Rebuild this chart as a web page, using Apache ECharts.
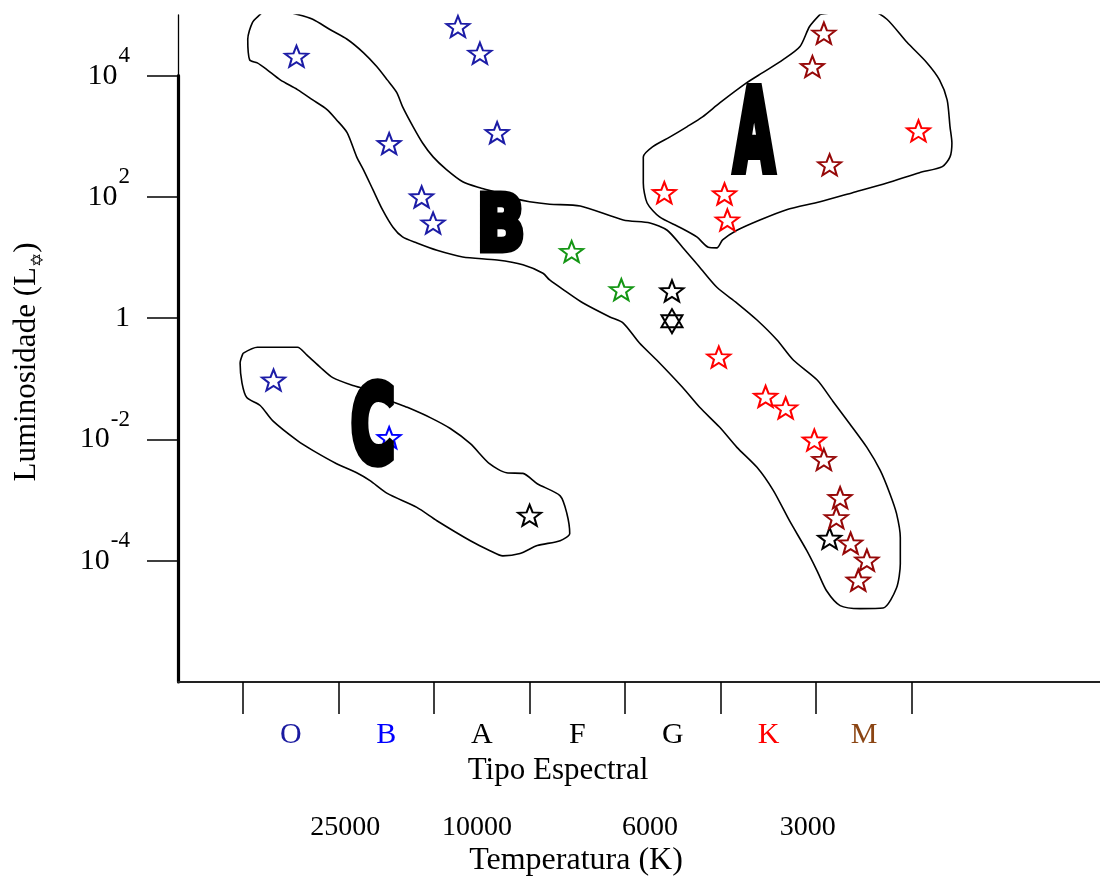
<!DOCTYPE html>
<html><head><meta charset="utf-8">
<script src="https://cdn.jsdelivr.net/npm/echarts@6/dist/echarts.min.js"></script>
<style>html,body{margin:0;padding:0;background:#fff}#c{width:1100px;height:878px}</style>
</head><body><div id="c"></div>
<script>
// Spectral classes (x axis: class boundaries at 0..7, label at mid-class)
const spectralClasses = ['O','B','A','F','G','K','M'];
const classColors = ['#1a1aa0','#0000ff','#000000','#000000','#000000','#ff0000','#8b4513'];
const classBoundaries = [0,1,2,3,4,5,6,7];
const classCenters = [0.5,1.5,2.5,3.5,4.5,5.5,6.5];
// Temperature tick labels (position on spectral axis)
const tempLabels = ['25000','10000','6000','3000'];
const tempPositions = [1.07,2.45,4.26,5.91];
// Luminosity ticks, as log10(L / Lsun)
const lumTicks = [-4,-2,0,2,4];

// Stars: [spectral position, log10 L]
const navyStars = [[0.56,4.32],[2.25,4.81],[2.48,4.37],[2.66,3.06],[1.53,2.88],[1.87,2.00],[1.99,1.57],[0.32,-1.02]];
const blueStars = [[1.53,-1.97]];
const greenStars = [[3.44,1.10],[3.96,0.47]];
const blackStars = [[4.49,0.45],[3.00,-3.25],[6.14,-3.63]];
const sunStar = [[4.49,-0.05]];
const redStars = [[4.98,-0.64],[5.47,-1.29],[5.68,-1.48],[5.98,-2.01],[7.07,3.09],[4.41,2.07],[5.04,2.05],[5.07,1.62]];
const darkRedStars = [[6.08,-2.33],[6.25,-2.96],[6.21,-3.29],[6.36,-3.71],[6.53,-3.99],[6.44,-4.32],[6.08,4.70],[5.96,4.15],[6.14,2.53]];

// Region outlines: [spectral position, log10 L]
const regionA = [[6.04,5.01],[6.32,5.06],[6.59,5.06],[6.74,4.93],[6.95,4.55],[7.16,4.21],[7.29,3.93],[7.37,3.60],[7.40,3.16],[7.42,2.89],[7.40,2.66],[7.32,2.50],[7.08,2.40],[6.74,2.23],[6.38,2.07],[6.04,1.92],[5.69,1.79],[5.41,1.62],[5.17,1.45],[5.02,1.29],[4.96,1.16],[4.87,1.17],[4.75,1.34],[4.57,1.50],[4.36,1.67],[4.23,1.90],[4.19,2.23],[4.19,2.66],[4.29,2.83],[4.47,2.99],[4.65,3.16],[4.81,3.32],[4.99,3.55],[5.27,3.88],[5.44,4.05],[5.65,4.26],[5.83,4.48],[5.93,4.81],[6.04,5.01]];
const regionB = [[0.21,5.06],[0.41,5.06],[0.57,5.01],[0.73,4.93],[0.91,4.76],[1.09,4.60],[1.26,4.38],[1.40,4.15],[1.51,3.93],[1.61,3.72],[1.67,3.49],[1.78,3.16],[1.88,2.89],[1.99,2.66],[2.13,2.45],[2.30,2.25],[2.48,2.15],[2.66,2.07],[2.83,1.98],[3.00,1.92],[3.21,1.88],[3.53,1.85],[3.98,1.62],[4.26,1.57],[4.44,1.45],[4.60,1.17],[4.78,0.84],[4.96,0.51],[5.17,0.25],[5.38,-0.03],[5.59,-0.36],[5.76,-0.69],[6.01,-1.02],[6.17,-1.36],[6.35,-1.74],[6.53,-2.13],[6.67,-2.51],[6.77,-2.89],[6.84,-3.22],[6.88,-3.62],[6.88,-4.05],[6.84,-4.45],[6.70,-4.78],[6.46,-4.79],[6.25,-4.74],[6.11,-4.50],[6.01,-4.17],[5.90,-3.83],[5.72,-3.34],[5.55,-2.84],[5.38,-2.46],[5.17,-2.13],[4.99,-1.80],[4.78,-1.47],[4.60,-1.14],[4.33,-0.69],[4.15,-0.41],[3.98,-0.08],[3.84,0.02],[3.56,0.25],[3.39,0.43],[3.21,0.63],[3.14,0.74],[2.93,0.88],[2.66,0.96],[2.30,1.01],[2.03,1.12],[1.82,1.24],[1.67,1.34],[1.57,1.50],[1.46,1.79],[1.36,2.12],[1.26,2.45],[1.19,2.66],[1.09,3.06],[0.98,3.27],[0.88,3.44],[0.73,3.60],[0.57,3.77],[0.39,3.93],[0.25,4.10],[0.15,4.21],[0.07,4.26],[0.05,4.60],[0.10,4.88],[0.18,5.01],[0.21,5.06]];
const regionC = [[0.00,-0.58],[0.15,-0.48],[0.57,-0.48],[0.67,-0.61],[0.81,-0.81],[0.94,-0.98],[1.15,-1.11],[1.33,-1.19],[1.54,-1.36],[1.72,-1.47],[1.96,-1.64],[2.17,-1.82],[2.38,-2.07],[2.58,-2.40],[2.76,-2.55],[2.93,-2.56],[3.08,-2.73],[3.32,-2.93],[3.39,-3.22],[3.42,-3.55],[3.32,-3.67],[3.08,-3.75],[2.90,-3.88],[2.72,-3.92],[2.58,-3.83],[2.38,-3.67],[2.03,-3.34],[1.82,-3.12],[1.51,-2.89],[1.33,-2.68],[1.19,-2.55],[0.98,-2.40],[0.73,-2.18],[0.57,-2.02],[0.31,-1.69],[0.18,-1.44],[0.04,-1.31],[-0.01,-1.07],[-0.03,-0.74],[0.00,-0.58]];

// Region letters and their anchor (spectral position, log10 L)
const regionNames = ['A','B','C'];
const regionNamePos = [[5.35,2.93],[2.70,1.45],[1.36,-1.93]];

const SERIF = "'Liberation Serif','Times New Roman',serif";
const STAR = 'path://M50,0L62.34,33.01L97.55,34.55L69.97,56.49L79.39,90.45L50,71L20.61,90.45L30.03,56.49L2.45,34.55L37.66,33.01Z';
const HEXA = 'path://M50,0L93.3,75L6.7,75Z M50,100L6.7,25L93.3,25Z';

function starSeries(data, color, symbol, size) {
  return {
    type: 'scatter', data: data, symbol: symbol || STAR, symbolSize: size || [23,21],
    itemStyle: {color: 'rgba(0,0,0,0)', borderColor: color, borderWidth: 2, opacity: 1},
    silent: true, z: 5
  };
}
function outline(data) {
  return {type: 'line', data: data, symbol: 'none', smooth: 0.25, silent: true,
    lineStyle: {color: '#000', width: 1.6}, z: 3};
}

const chart = echarts.init(document.getElementById('c'), null, {renderer: 'canvas'});
const XMIN = -0.68, XMAX = 8.97, YMIN = -6, YMAX = 5;
const GRID_TOP = 15, GRID_BOTTOM = 196, H = 878;
const plotH = H - GRID_TOP - GRID_BOTTOM;
// second grid: same scale, limited to the lower part (thick axis segment up to 10^4)
const thickTop = GRID_TOP + plotH * (YMAX - lumTicks[lumTicks.length - 1]) / (YMAX - YMIN);
chart.setOption({
  animation: false,
  backgroundColor: '#fff',
  grid: [{left: 178, right: 0, top: GRID_TOP, bottom: GRID_BOTTOM},
         {left: 178, right: 0, top: thickTop, bottom: GRID_BOTTOM}],
  xAxis: [{
    type: 'value', min: XMIN, max: XMAX, position: 'bottom', gridIndex: 0,
    axisLine: {show: true, onZero: false, lineStyle: {color: '#222', width: 2}},
    axisTick: {show: true, customValues: classBoundaries, length: 32, inside: false,
      lineStyle: {color: '#000', width: 1.5}},
    axisLabel: {show: true, customValues: classCenters, margin: 38,
      fontFamily: SERIF, fontSize: 30,
      formatter: v => spectralClasses[Math.round(v - 0.5)],
      color: (v) => classColors[Math.round(v - 0.5)]},
    splitLine: {show: false}
  }, {
    type: 'value', min: XMIN, max: XMAX, position: 'bottom', gridIndex: 0,
    axisLine: {show: false, onZero: false}, axisTick: {show: false}, splitLine: {show: false},
    axisLabel: {show: true, customValues: tempPositions, margin: 132,
      fontFamily: SERIF, fontSize: 28, color: '#000',
      formatter: v => tempLabels[tempPositions.indexOf(v)]}
  }, {
    type: 'value', min: XMIN, max: XMAX, gridIndex: 1, show: false
  }],
  yAxis: [{
    type: 'value', min: YMIN, max: YMAX, position: 'left', gridIndex: 0,
    axisLine: {show: true, onZero: false, lineStyle: {color: '#000', width: 1.3}},
    axisTick: {show: true, customValues: lumTicks, length: 31, lineStyle: {color: '#000', width: 1.5}},
    axisLabel: {show: true, customValues: lumTicks, margin: 48, color: '#000',
      formatter: v => v === 0 ? '{b|1}' : '{b|10}{e|' + v + '}',
      rich: {
        b: {fontFamily: SERIF, fontSize: 30, lineHeight: 62, verticalAlign: 'middle', color: '#000'},
        e: {fontFamily: SERIF, fontSize: 23, lineHeight: 23, verticalAlign: 'top', padding: [0,0,0,1], color: '#000'}
      }},
    splitLine: {show: false}
  }, {
    type: 'value', min: YMIN, max: lumTicks[lumTicks.length - 1], position: 'left', gridIndex: 1,
    axisLine: {show: true, onZero: false, lineStyle: {color: '#000', width: 3.2}},
    axisTick: {show: false}, axisLabel: {show: false}, splitLine: {show: false}
  }],
  series: [
    outline(regionA), outline(regionB), outline(regionC),
    starSeries(navyStars, '#1c1ca6'),
    starSeries(blueStars, '#0000ff'),
    starSeries(greenStars, '#149614'),
    starSeries(blackStars, '#000000'),
    starSeries(sunStar, '#000000', HEXA, [21,24]),
    starSeries(redStars, '#ff0000'),
    starSeries(darkRedStars, '#960808')
  ]
});

// Letters, titles (placed after layout)
const letterScale = [[0.52,1.12],[0.63,0.76],[0.60,1.05]];
const gfx = regionNames.map((t, i) => {
  const p = chart.convertToPixel({xAxisIndex: 0, yAxisIndex: 0}, regionNamePos[i]);
  return {type: 'text', x: p[0], y: p[1], scaleX: letterScale[i][0], scaleY: letterScale[i][1], z: 100,
    style: {text: t, fontFamily: "'DejaVu Sans',sans-serif", fontWeight: 'bold', fontSize: 100,
      fill: '#000', stroke: '#000', lineWidth: 9, lineJoin: 'round',
      textAlign: 'center', textVerticalAlign: 'middle'}};
});
gfx.push({type: 'text', x: 558, y: 771, z: 100,
  style: {text: 'Tipo Espectral', fontFamily: SERIF, fontSize: 31, fill: '#000', textAlign: 'center', textVerticalAlign: 'middle'}});
gfx.push({type: 'text', x: 576, y: 861, z: 100,
  style: {text: 'Temperatura (K)', fontFamily: SERIF, fontSize: 32, fill: '#000', textAlign: 'center', textVerticalAlign: 'middle'}});
gfx.push({type: 'text', x: 27, y: 362, rotation: Math.PI / 2, z: 100,
  style: {text: 'Luminosidade (L{s|✡})', fontFamily: SERIF, fontSize: 31, fill: '#000',
    textAlign: 'center', textVerticalAlign: 'middle',
    rich: {s: {fontFamily: "'DejaVu Sans',sans-serif", fontSize: 17, verticalAlign: 'bottom', lineHeight: 40, fill: '#000'}}}});
chart.setOption({graphic: gfx});
</script>
</body></html>
